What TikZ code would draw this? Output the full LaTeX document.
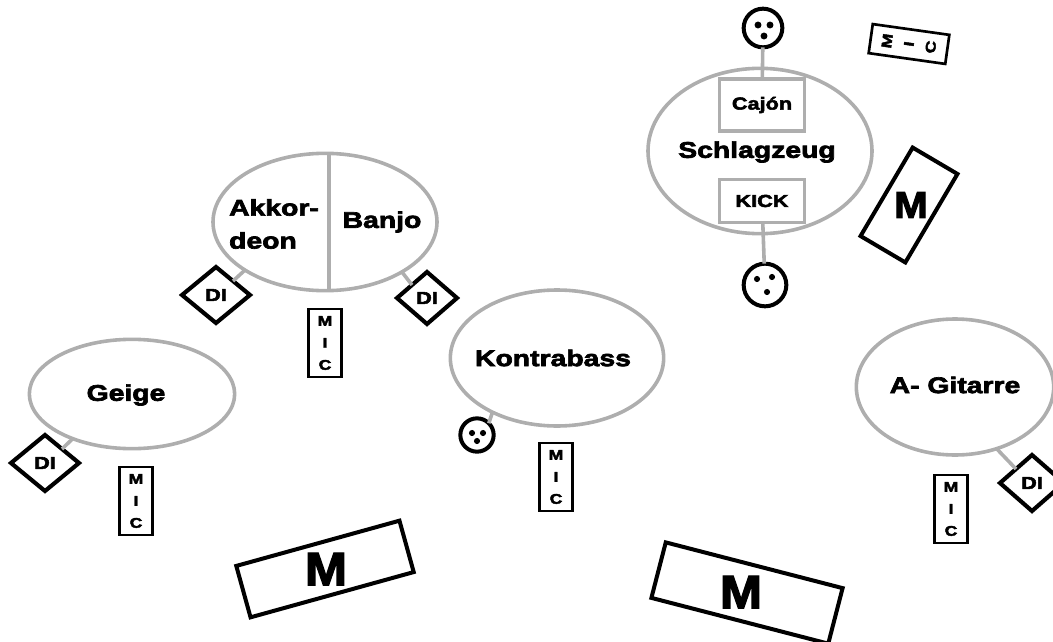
\documentclass[tikz,border=0pt]{standalone}
\usepackage{fontspec}
\usetikzlibrary{shapes.geometric}
\setmainfont{Liberation Sans}[FakeStretch=1.25,BoldFeatures={FakeBold=3}]
\newfontfamily\mfont{Liberation Sans}[FakeStretch=1.08,BoldFeatures={FakeBold=3}]
\definecolor{graystroke}{HTML}{AEAEAE}
\tikzset{
  x=0.75pt,y=-0.75pt,
  ell/.style={draw=graystroke,line width=2.7pt,ellipse,inner sep=0pt,outer sep=0pt},
  conn/.style={draw=graystroke,line width=2.7pt},
  lbl/.style={font=\fontsize{17pt}{24.75pt}\selectfont\bfseries,inner sep=0pt,text=black},
  gbox/.style={draw=graystroke,line width=2.7pt,rectangle,inner sep=0pt,outer sep=0pt,fill=white,font=\fontsize{13pt}{14pt}\selectfont\bfseries},
  dibox/.style={draw=black,line width=3.1pt,diamond,aspect=1.15,inner sep=0pt,outer sep=0pt,fill=white,font=\fontsize{13pt}{13pt}\selectfont\bfseries},
  micbox/.style={draw=black,line width=2pt,rectangle,inner sep=0pt,outer sep=0pt,fill=white,minimum width=25pt,minimum height=51pt,align=center,font=\fontsize{10.5pt}{16.5pt}\selectfont\bfseries},
  xlr/.style={draw=black,line width=3pt,circle,inner sep=0pt,outer sep=0pt,fill=white},
  monbox/.style={draw=black,line width=3pt,rectangle,inner sep=0pt,outer sep=0pt,fill=white},
  mlabel/.style={inner sep=0pt},
}
\begin{document}
\begin{tikzpicture}
\useasboundingbox (0,0) rectangle (1053,642);
% ellipses
\node[ell,minimum width=168pt,minimum height=124pt] (schlag) at (760,151) {};
\node[ell,minimum width=168pt,minimum height=103pt] (akk) at (325,222) {};
\node[ell,minimum width=154pt,minimum height=82pt] (geige) at (132,394) {};
\node[ell,minimum width=160pt,minimum height=102pt] (kontra) at (557,358) {};
\node[ell,minimum width=148pt,minimum height=102pt] (gitarre) at (955,387) {};
% boxes in the drum kit
\node[gbox,minimum width=64pt,minimum height=39pt] (cajon) at (762,105) {Cajón};
\node[gbox,minimum width=64pt,minimum height=32pt] (kick) at (762,201) {KICK};
\node[lbl] (schlagl) at (757,152) {Schlagzeug};
% round connectors
\node[xlr,minimum size=29pt] (xtop) at (763,28) {};
\node[xlr,minimum size=32pt] (xbot) at (765,285) {};
\node[xlr,minimum size=25pt] (xkon) at (477,435) {};
\fill (xtop) ++(-5,-3) circle (2.6pt) (xtop) ++(7,-3) circle (2.6pt) (xtop) ++(1,8) circle (2.6pt);
\fill (xbot) ++(-8,-6) circle (2.3pt) (xbot) ++(7,-8) circle (2.3pt) (xbot) ++(2,7) circle (2.3pt);
\fill (xkon) ++(-5,-2) circle (2.3pt) (xkon) ++(6,-2) circle (2.3pt) (xkon) ++(0,6) circle (2.3pt);
% labels
\node[lbl,align=left] (akkl) at (274,224) {Akkor-\\deon};
\node[lbl] (banjol) at (382,222) {Banjo};
\node[lbl] (geigel) at (126,395) {Geige};
\node[lbl] (kontral) at (553,358) {Kontrabass};
\node[lbl] (gitarrel) at (955,385) {A- Gitarre};
% DI
\node[dibox,minimum width=51pt,minimum height=42pt] (di1) at (216,295) {DI};
\node[dibox,minimum width=45pt,minimum height=39pt] (di2) at (427,298) {DI};
\node[dibox,minimum width=51pt,minimum height=42pt] (di3) at (45,463) {DI};
\node[dibox,minimum width=48pt,minimum height=42pt] (di4) at (1032,483) {DI};
% MIC
\node[micbox] (mic1) at (325,343) {M\\I\\C};
\node[micbox] (mic2) at (136,501) {M\\I\\C};
\node[micbox] (mic3) at (556,477) {M\\I\\C};
\node[micbox] (mic4) at (951,509) {M\\I\\C};
\node[micbox,rotate=82,minimum width=22pt,minimum height=58pt] (mic5) at (909,44) {M\\I\\C};
% monitors
\node[monbox,rotate=59.5,minimum width=77pt,minimum height=39pt] (mon1) at (909,205) {};
\node[monbox,rotate=15.5,minimum width=127pt,minimum height=40pt] (mon2) at (325,569) {};
\node[monbox,rotate=-14.5,minimum width=137pt,minimum height=43pt] (mon3) at (747,593) {};
\node[mlabel,font=\mfont\fontsize{28pt}{28pt}\selectfont\bfseries] (m1) at (911,205) {M};
\node[mlabel,font=\mfont\fontsize{35pt}{35pt}\selectfont\bfseries] (m2) at (326,569) {M};
\node[mlabel,font=\mfont\fontsize{35pt}{35pt}\selectfont\bfseries] (m3) at (741,592) {M};
% connectors
\draw[conn] ([xshift=3pt]akk.north) -- ([xshift=3pt]akk.south);
\draw[conn] (xtop) -- (cajon);
\draw[conn] (kick) -- (xbot);
\draw[conn] (di1.north east) -- (akk.-149);
\draw[conn] (di2.north west) -- (akk.-33);
\draw[conn] (di3.north east) -- (geige.-143);
\draw[conn] (di4.north west) -- (gitarre.-56);
\draw[conn] (xkon.north east) -- (kontra.-140);
\end{tikzpicture}
\end{document}
